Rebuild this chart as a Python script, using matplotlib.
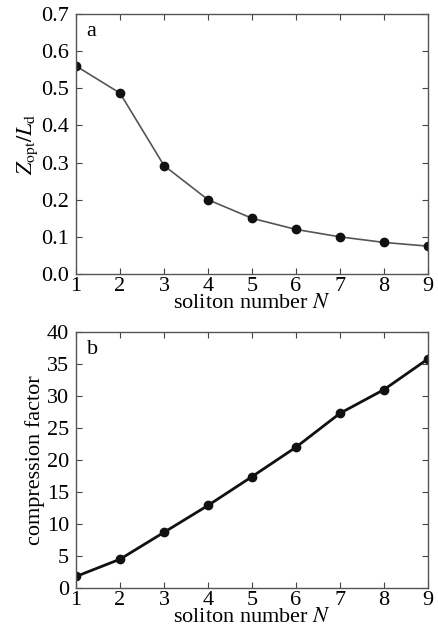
import matplotlib
matplotlib.use("Agg")
import matplotlib.pyplot as plt

N = [1, 2, 3, 4, 5, 6, 7, 8, 9]
z_opt = [0.56, 0.487, 0.292, 0.20, 0.15, 0.12, 0.10, 0.085, 0.075]
compression = [1.8, 4.5, 8.7, 12.9, 17.4, 22.0, 27.3, 31.0, 35.8]
yticks_a = [0.0, 0.1, 0.2, 0.3, 0.4, 0.5, 0.6, 0.7]
ytick_labels_a = ["0.0", "0.1", "0.2", "0.3", "0.4", "0.5", "0.6", "0.7"]
yticks_b = [0, 5, 10, 15, 20, 25, 30, 35, 40]

plt.rcParams['font.family'] = ['Liberation Serif', 'DejaVu Serif']
plt.rcParams['mathtext.fontset'] = 'stix'

fig = plt.figure(figsize=(4.38, 6.37), dpi=100)
W, H = 438, 637
ax1 = fig.add_axes([76 / W, 1 - 274 / H, 352 / W, 260 / H])
ax2 = fig.add_axes([76 / W, 1 - 588 / H, 352 / W, 256 / H])

fs = 16
for ax in (ax1, ax2):
    ax.tick_params(direction='in', top=True, right=True, labelsize=fs, length=4,
                   color='#444444')
    ax.tick_params(axis='x', pad=2)
    ax.tick_params(axis='y', pad=5)
    for s in ax.spines.values():
        s.set_color('#555555')
        s.set_linewidth(1.0)
    ax.set_xlim(1, 9)
    ax.set_xticks(N)
    ax.set_xlabel(r'soliton number $N$', fontsize=fs, labelpad=-1)

ax1.plot(N, z_opt, color='#555555', lw=1.2, marker='o', ms=6, mfc='#111111', mec='#111111')
ax1.set_ylim(0, 0.7)
ax1.set_yticks(yticks_a)
ax1.set_yticklabels(ytick_labels_a)
ax1.set_ylabel(r'$Z_{\rm opt}/L_{\rm d}$', fontsize=fs, labelpad=1)
ax1.text(0.03, 0.97, 'a', transform=ax1.transAxes, fontsize=fs, va='top', ha='left')

ax2.plot(N, compression, color='#111111', lw=2.0, marker='o', ms=6, mfc='#111111', mec='#111111')
ax2.set_ylim(0, 40)
ax2.set_yticks(yticks_b)
ax2.set_ylabel('compression factor', fontsize=fs, labelpad=1)
ax2.text(0.03, 0.97, 'b', transform=ax2.transAxes, fontsize=fs, va='top', ha='left')

fig.savefig('out.png', dpi=100)
